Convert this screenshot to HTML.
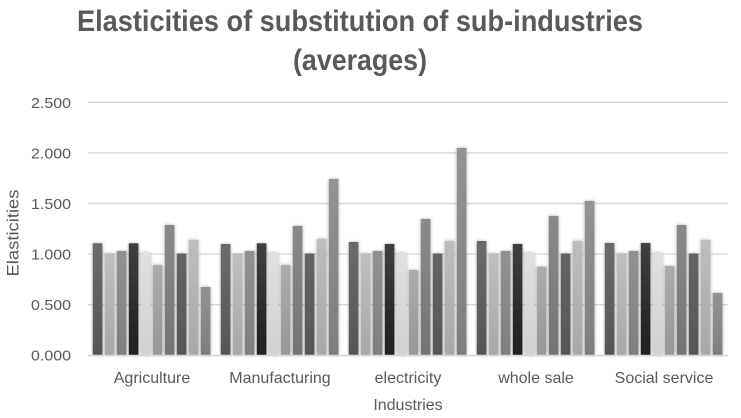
<!DOCTYPE html>
<html>
<head>
<meta charset="utf-8">
<style>
  html, body { margin: 0; padding: 0; background: #ffffff; }
  body { width: 741px; height: 418px; overflow: hidden; }
  svg { display: block; }
  text { font-family: "Liberation Sans", Arial, sans-serif; fill: #595959; }
</style>
</head>
<body>
<svg width="741" height="418" viewBox="0 0 741 418" xmlns="http://www.w3.org/2000/svg">
  <defs>
    <filter id="sh" x="-50%" y="-10%" width="200%" height="120%">
      <feGaussianBlur in="SourceAlpha" stdDeviation="1.6"/>
      <feOffset dx="0" dy="0" result="b"/>
      <feComponentTransfer><feFuncA type="linear" slope="0.35"/></feComponentTransfer>
      <feMerge><feMergeNode/><feMergeNode in="SourceGraphic"/></feMerge>
    </filter>
    <linearGradient id="g1" x1="0" y1="0" x2="0" y2="1"><stop offset="0" stop-color="#6b6b6b"/><stop offset="1" stop-color="#565656"/></linearGradient>
    <linearGradient id="g2" x1="0" y1="0" x2="0" y2="1"><stop offset="0" stop-color="#bebebe"/><stop offset="1" stop-color="#a9a9a9"/></linearGradient>
    <linearGradient id="g3" x1="0" y1="0" x2="0" y2="1"><stop offset="0" stop-color="#929292"/><stop offset="1" stop-color="#7e7e7e"/></linearGradient>
    <linearGradient id="g4" x1="0" y1="0" x2="0" y2="1"><stop offset="0" stop-color="#404040"/><stop offset="1" stop-color="#1f1f1f"/></linearGradient>
    <linearGradient id="g5" x1="0" y1="0" x2="0" y2="1"><stop offset="0" stop-color="#e0e0e0"/><stop offset="1" stop-color="#d2d2d2"/></linearGradient>
    <linearGradient id="g6" x1="0" y1="0" x2="0" y2="1"><stop offset="0" stop-color="#acacac"/><stop offset="1" stop-color="#999999"/></linearGradient>
    <linearGradient id="g7" x1="0" y1="0" x2="0" y2="1"><stop offset="0" stop-color="#8a8a8a"/><stop offset="1" stop-color="#737373"/></linearGradient>
    <linearGradient id="g8" x1="0" y1="0" x2="0" y2="1"><stop offset="0" stop-color="#666666"/><stop offset="1" stop-color="#555555"/></linearGradient>
    <linearGradient id="g9" x1="0" y1="0" x2="0" y2="1"><stop offset="0" stop-color="#bdbdbd"/><stop offset="1" stop-color="#a8a8a8"/></linearGradient>
    <linearGradient id="g10" x1="0" y1="0" x2="0" y2="1"><stop offset="0" stop-color="#939393"/><stop offset="1" stop-color="#7d7d7d"/></linearGradient>
  </defs>

  <!-- Title -->
  <text x="360" y="31" text-anchor="middle" font-size="30" font-weight="bold" textLength="566" lengthAdjust="spacingAndGlyphs">Elasticities of substitution of sub-industries</text>
  <text x="360" y="70" text-anchor="middle" font-size="30" font-weight="bold" textLength="134" lengthAdjust="spacingAndGlyphs">(averages)</text>

  <!-- Gridlines -->
  <g stroke="#d9d9d9" stroke-width="1.4">
    <line x1="88" y1="102.3" x2="728" y2="102.3"/>
    <line x1="88" y1="152.9" x2="728" y2="152.9"/>
    <line x1="88" y1="203.5" x2="728" y2="203.5"/>
    <line x1="88" y1="254.1" x2="728" y2="254.1"/>
    <line x1="88" y1="304.7" x2="728" y2="304.7"/>
  </g>

  <!-- Y tick labels -->
  <g font-size="15" text-anchor="end">
    <text x="71" y="108" textLength="40" lengthAdjust="spacingAndGlyphs">2.500</text>
    <text x="71" y="158.5" textLength="40" lengthAdjust="spacingAndGlyphs">2.000</text>
    <text x="71" y="209" textLength="40" lengthAdjust="spacingAndGlyphs">1.500</text>
    <text x="71" y="259.5" textLength="40" lengthAdjust="spacingAndGlyphs">1.000</text>
    <text x="71" y="310" textLength="40" lengthAdjust="spacingAndGlyphs">0.500</text>
    <text x="71" y="360.5" textLength="40" lengthAdjust="spacingAndGlyphs">0.000</text>
  </g>

  <!-- Y axis title -->
  <text transform="translate(18.5,233) rotate(-90)" text-anchor="middle" font-size="16.5" textLength="87" lengthAdjust="spacingAndGlyphs">Elasticities</text>

  <!-- Bars -->
  <g filter="url(#sh)">
    <!-- Agriculture -->
    <rect x="92.8" y="243.3" width="9.6" height="111.7" fill="url(#g1)"/>
    <rect x="104.8" y="253.6" width="9.6" height="101.4" fill="url(#g2)"/>
    <rect x="116.8" y="251" width="9.6" height="104" fill="url(#g3)"/>
    <rect x="128.8" y="243.3" width="9.6" height="111.7" fill="url(#g4)"/>
    <rect x="140.8" y="252.4" width="9.6" height="102.6" fill="url(#g5)"/>
    <rect x="152.8" y="265" width="9.6" height="90" fill="url(#g6)"/>
    <rect x="164.8" y="225" width="9.6" height="130" fill="url(#g7)"/>
    <rect x="176.8" y="253.6" width="9.6" height="101.4" fill="url(#g8)"/>
    <rect x="188.8" y="240" width="9.6" height="115" fill="url(#g9)"/>
    <rect x="200.8" y="287" width="9.6" height="68" fill="url(#g10)"/>
    <!-- Manufacturing -->
    <rect x="220.8" y="244" width="9.6" height="111" fill="url(#g1)"/>
    <rect x="232.8" y="254" width="9.6" height="101" fill="url(#g2)"/>
    <rect x="244.8" y="251" width="9.6" height="104" fill="url(#g3)"/>
    <rect x="256.8" y="243.3" width="9.6" height="111.7" fill="url(#g4)"/>
    <rect x="268.8" y="252.7" width="9.6" height="102.3" fill="url(#g5)"/>
    <rect x="280.8" y="265" width="9.6" height="90" fill="url(#g6)"/>
    <rect x="292.8" y="226" width="9.6" height="129" fill="url(#g7)"/>
    <rect x="304.8" y="253.6" width="9.6" height="101.4" fill="url(#g8)"/>
    <rect x="316.8" y="239" width="9.6" height="116" fill="url(#g9)"/>
    <rect x="328.8" y="179" width="9.6" height="176" fill="url(#g10)"/>
    <!-- electricity -->
    <rect x="348.8" y="242" width="9.6" height="113" fill="url(#g1)"/>
    <rect x="360.8" y="253.6" width="9.6" height="101.4" fill="url(#g2)"/>
    <rect x="372.8" y="251" width="9.6" height="104" fill="url(#g3)"/>
    <rect x="384.8" y="244" width="9.6" height="111" fill="url(#g4)"/>
    <rect x="396.8" y="252.7" width="9.6" height="102.3" fill="url(#g5)"/>
    <rect x="408.8" y="270" width="9.6" height="85" fill="url(#g6)"/>
    <rect x="420.8" y="219" width="9.6" height="136" fill="url(#g7)"/>
    <rect x="432.8" y="253.6" width="9.6" height="101.4" fill="url(#g8)"/>
    <rect x="444.8" y="241" width="9.6" height="114" fill="url(#g9)"/>
    <rect x="456.8" y="148" width="9.6" height="207" fill="url(#g10)"/>
    <!-- whole sale -->
    <rect x="476.8" y="241" width="9.6" height="114" fill="url(#g1)"/>
    <rect x="488.8" y="253.6" width="9.6" height="101.4" fill="url(#g2)"/>
    <rect x="500.8" y="251" width="9.6" height="104" fill="url(#g3)"/>
    <rect x="512.8" y="244" width="9.6" height="111" fill="url(#g4)"/>
    <rect x="524.8" y="252.7" width="9.6" height="102.3" fill="url(#g5)"/>
    <rect x="536.8" y="266.7" width="9.6" height="88.3" fill="url(#g6)"/>
    <rect x="548.8" y="216" width="9.6" height="139" fill="url(#g7)"/>
    <rect x="560.8" y="253.6" width="9.6" height="101.4" fill="url(#g8)"/>
    <rect x="572.8" y="241" width="9.6" height="114" fill="url(#g9)"/>
    <rect x="584.8" y="201" width="9.6" height="154" fill="url(#g10)"/>
    <!-- Social service -->
    <rect x="604.8" y="243" width="9.6" height="112" fill="url(#g1)"/>
    <rect x="616.8" y="253.6" width="9.6" height="101.4" fill="url(#g2)"/>
    <rect x="628.8" y="251" width="9.6" height="104" fill="url(#g3)"/>
    <rect x="640.8" y="243" width="9.6" height="112" fill="url(#g4)"/>
    <rect x="652.8" y="252.7" width="9.6" height="102.3" fill="url(#g5)"/>
    <rect x="664.8" y="266" width="9.6" height="89" fill="url(#g6)"/>
    <rect x="676.8" y="225" width="9.6" height="130" fill="url(#g7)"/>
    <rect x="688.8" y="253.6" width="9.6" height="101.4" fill="url(#g8)"/>
    <rect x="700.8" y="240" width="9.6" height="115" fill="url(#g9)"/>
    <rect x="712.8" y="293" width="9.6" height="62" fill="url(#g10)"/>
  </g>

  <!-- Baseline -->
  <line x1="88" y1="355.6" x2="728" y2="355.6" stroke="#d9d9d9" stroke-width="1.6"/>

  <!-- Category labels -->
  <g font-size="16" text-anchor="middle">
    <text x="152" y="383">Agriculture</text>
    <text x="280" y="383">Manufacturing</text>
    <text x="408" y="383">electricity</text>
    <text x="536" y="383">whole sale</text>
    <text x="664" y="383">Social service</text>
  </g>

  <!-- X axis title -->
  <text x="408" y="410" text-anchor="middle" font-size="16">Industries</text>
</svg>
</body>
</html>
